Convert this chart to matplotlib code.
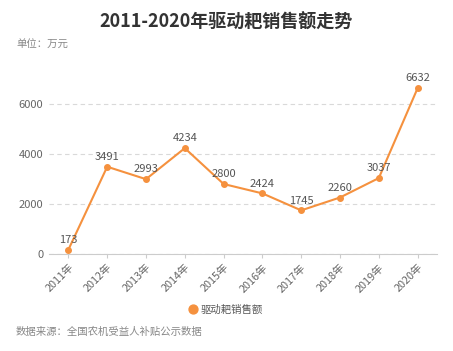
import matplotlib
matplotlib.use('Agg')
import matplotlib.pyplot as plt

plt.rcParams['font.family'] = ['Noto Sans CJK SC', 'DejaVu Sans']

years = ['2011年', '2012年', '2013年', '2014年', '2015年', '2016年', '2017年', '2018年', '2019年', '2020年']
sales = [173, 3491, 2993, 4234, 2800, 2424, 1745, 2260, 3037, 6632]
series_name = '驱动耙销售额'
color = '#f5913e'

fig = plt.figure(figsize=(4.53, 3.51), dpi=100)
ax = fig.add_axes([49 / 453, 1 - 254 / 351, 388 / 453, 175 / 351])

x = list(range(len(years)))
ax.plot(x, sales, color=color, lw=1.5, marker='o', ms=4, label=series_name, zorder=3)
for xi, v in zip(x, sales):
    ax.annotate(str(v), (xi, v), xytext=(0, 3.5), textcoords='offset points',
                ha='center', va='bottom', fontsize=8, color='#555555')

ax.set_xlim(-0.5, len(years) - 0.5)
ax.set_ylim(0, 7000)
ax.set_yticks([0, 2000, 4000, 6000])
ax.set_xticks(x)
ax.set_xticklabels(years, rotation=45, ha='right', rotation_mode='anchor')
ax.tick_params(axis='x', labelsize=7.8, colors='#666666', length=3, color='#cccccc', pad=3)
ax.tick_params(axis='y', labelsize=8, colors='#666666', length=0, pad=4)
ax.grid(axis='y', linestyle=(0, (4, 3)), color='#d9d9d9', lw=0.8)
for s in ['top', 'right', 'left']:
    ax.spines[s].set_visible(False)
ax.spines['bottom'].set_color('#cccccc')
ax.set_axisbelow(True)

fig.text(0.5, 1 - 22 / 351, '2011-2020年驱动耙销售额走势', ha='center', va='center',
         fontsize=13, fontweight='bold', color='#333333')
fig.text(16 / 453, 1 - 45 / 351, '单位：万元', ha='left', va='center', fontsize=7.5, color='#888888')
fig.text(16 / 453, 1 - 332 / 351, '数据来源：全国农机受益人补贴公示数据', ha='left', va='center',
         fontsize=7.5, color='#888888')

fig.legend(loc='center', bbox_to_anchor=(0.5, 1 - 310 / 351), frameon=False, fontsize=7.5,
           handlelength=0.6, handletextpad=0.5, labelcolor='#555555', markerscale=1.6)
leg = fig.legends[0]
for h in leg.legend_handles:
    h.set_linestyle('none')

fig.savefig('out.png', dpi=100)
